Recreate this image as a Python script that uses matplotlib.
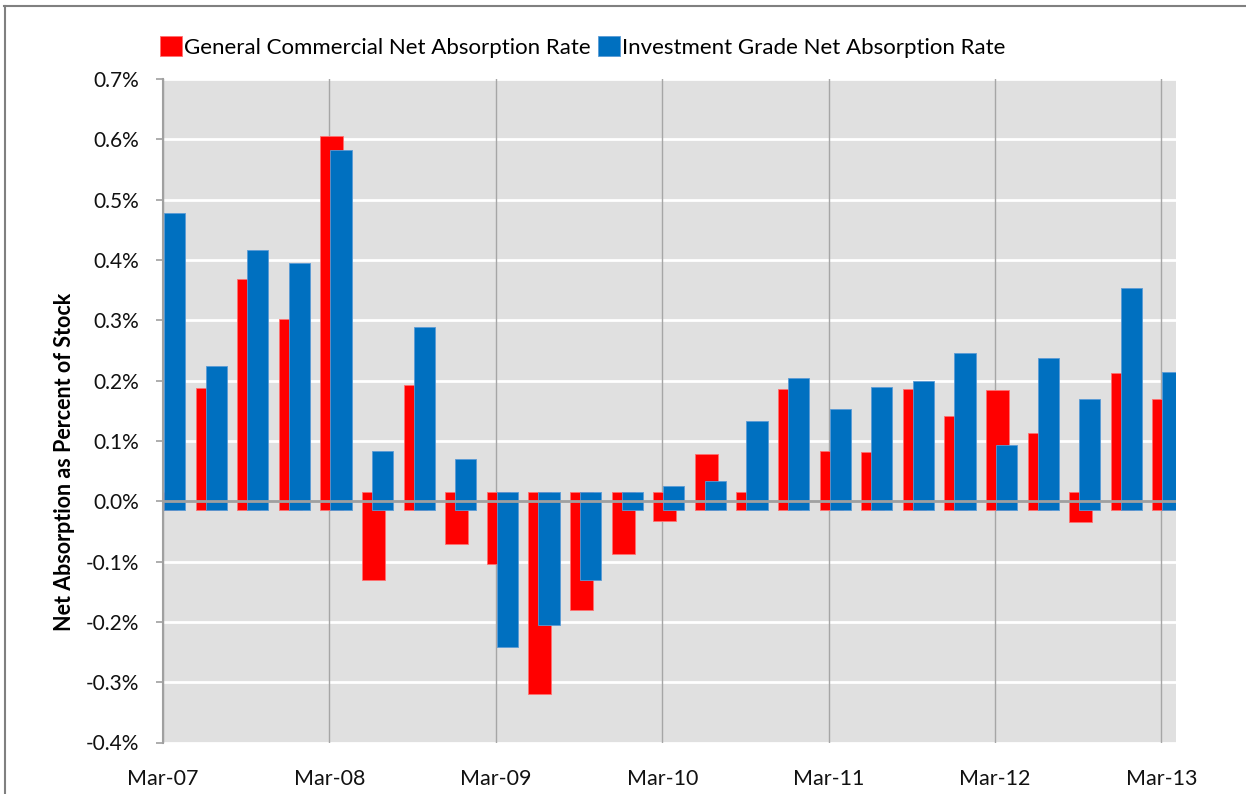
import numpy as np
import matplotlib.pyplot as plt
from matplotlib.lines import Line2D

plt.rcParams['font.family'] = ['Lato', 'DejaVu Sans']

# quarterly net absorption, percent of stock (Mar-07 .. Mar-13)
quarters = ["Mar-07", "Jun-07", "Sep-07", "Dec-07",
            "Mar-08", "Jun-08", "Sep-08", "Dec-08",
            "Mar-09", "Jun-09", "Sep-09", "Dec-09",
            "Mar-10", "Jun-10", "Sep-10", "Dec-10",
            "Mar-11", "Jun-11", "Sep-11", "Dec-11",
            "Mar-12", "Jun-12", "Sep-12", "Dec-12",
            "Mar-13"]
general = [0.0, 0.187, 0.368, 0.302,
           0.605, -0.131, 0.192, -0.071,
           -0.104, -0.320, -0.181, -0.088,
           -0.032, 0.078, 0.0, 0.186,
           0.083, 0.081, 0.186, 0.141,
           0.185, 0.113, -0.035, 0.212,
           0.169]
invest = [0.478, 0.224, 0.416, 0.395,
          0.582, 0.083, 0.289, 0.070,
          -0.242, -0.206, -0.131, 0.0,
          0.025, 0.034, 0.133, 0.204,
          0.153, 0.189, 0.199, 0.245,
          0.093, 0.237, 0.169, 0.353,
          0.214]
y_ticks = [-0.4, -0.3, -0.2, -0.1, 0.0, 0.1, 0.2, 0.3, 0.4, 0.5, 0.6, 0.7]

red = "#ff0000"
blue = "#0070c0"
overlap = 0.015  # bars in the original cross the zero line a little

fig = plt.figure(figsize=(12.46, 7.94), dpi=100)
ax = fig.add_axes([163/1246, 1 - 742.5/794, (1176 - 163)/1246, (742.5 - 79)/794])
ax.set_facecolor("#e0e0e0")

x = np.arange(len(quarters))
g = np.array(general)
v = np.array(invest)

def span(vals):
    low = np.minimum(vals, -overlap)
    high = np.maximum(vals, overlap)
    return low, high - low

lo, h = span(g)
ax.bar(x + 0.06, h, bottom=lo, width=0.55, color=red, edgecolor="#ff7070",
       linewidth=0.6, zorder=2, label="General Commercial Net Absorption Rate")
lo, h = span(v)
ax.bar(x + 0.28, h, bottom=lo, width=0.51, color=blue, edgecolor="#5a9bd5",
       linewidth=0.6, zorder=2.1, label="Investment Grade Net Absorption Rate")

ax.axhline(0, color="#a0a0a0", lw=2, zorder=3)

ax.set_ylim(-0.4, 0.7)
ax.set_yticks(y_ticks)
ax.set_yticklabels(["%.1f%%" % t for t in y_ticks])
for t in y_ticks:
    if t != 0:
        ax.axhline(t, color="white", lw=2, zorder=1)

ax.set_xlim(0, 24.35)
ax.set_xticks(x[::4])
ax.set_xticklabels(quarters[::4])
for xi in x[::4]:
    ax.axvline(xi, color="#a6a6a6", lw=1, zorder=1)

for s in ["top", "right", "bottom"]:
    ax.spines[s].set_visible(False)
ax.spines["left"].set_color("#a0a0a0")
ax.spines["left"].set_linewidth(1.5)
ax.spines["left"].set_zorder(4)
ax.tick_params(axis="y", length=5, color="#a0a0a0", width=1.2, pad=12,
               labelsize=15, labelcolor="#111111")
ax.tick_params(axis="x", length=0, pad=19, labelsize=15.5, labelcolor="#111111")

fig.text(65/1246, 1 - 462/794, "Net Absorption as Percent of Stock",
         rotation=90, ha="center", va="center", fontsize=15.5, fontweight="bold")

fig.legend(loc="center left", bbox_to_anchor=(160/1246, 1 - 47/794), ncol=2,
           frameon=False, fontsize=16, handlelength=1.0, handleheight=1.0,
           handletextpad=0.1, columnspacing=0.3, borderpad=0, borderaxespad=0)

# outer chart frame (only top and left are visible in the crop)
fig.add_artist(Line2D([4/1246, 1], [1 - 6/794, 1 - 6/794], color="#808080", lw=1.5))
fig.add_artist(Line2D([5/1246, 5/1246], [0, 1 - 6/794], color="#808080", lw=1.5))

fig.savefig("out.png", dpi=100)
